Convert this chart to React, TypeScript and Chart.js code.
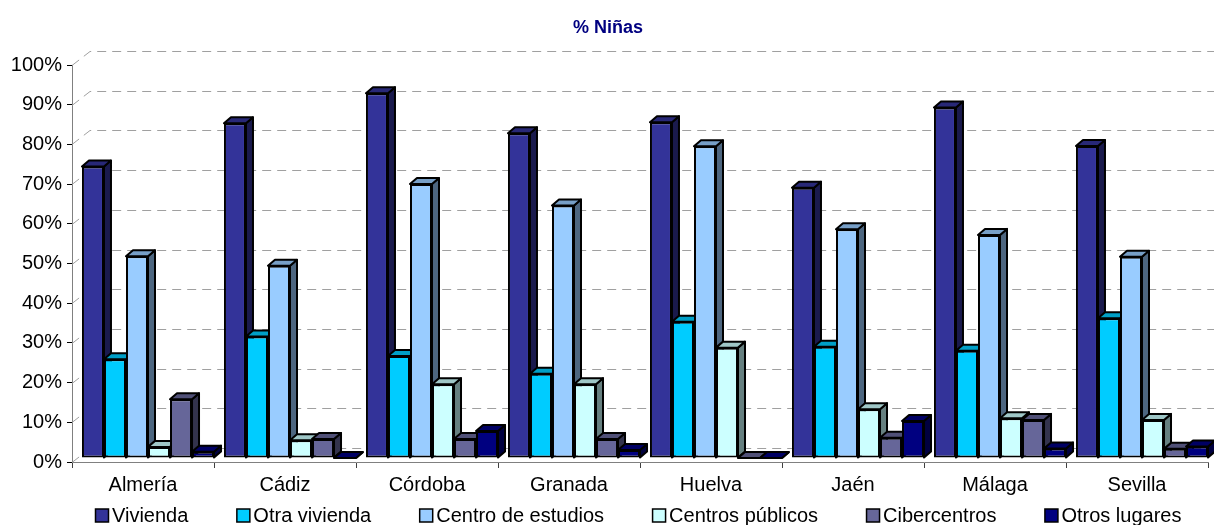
import React, { useEffect, useRef } from 'react';
import { Chart, registerables } from 'chart.js';

Chart.register(...registerables);

const categories = ['Almería', 'Cádiz', 'Córdoba', 'Granada', 'Huelva', 'Jaén', 'Málaga', 'Sevilla'];
const seriesNames = ['Vivienda', 'Otra vivienda', 'Centro de estudios', 'Centros públicos', 'Cibercentros', 'Otros lugares'];
const vivienda = [73.4, 84.3, 91.9, 81.8, 84.6, 68.1, 88.3, 78.6];
const otraVivienda = [24.9, 30.6, 25.7, 21.2, 34.3, 28.0, 27.0, 35.2];
const centroEstudios = [50.8, 48.4, 69.0, 63.6, 78.5, 57.6, 56.2, 50.7];
const centrosPublicos = [2.8, 4.5, 18.6, 18.6, 27.8, 12.3, 10.0, 9.6];
const cibercentros = [14.8, 4.8, 4.8, 4.8, 0, 5.1, 9.6, 2.3];
const otrosLugares = [1.6, 0, 6.8, 2.0, 0, 9.3, 2.4, 2.9];
const seriesValues = [vivienda, otraVivienda, centroEstudios, centrosPublicos, cibercentros, otrosLugares];
const seriesColors = ['#333399', '#00CCFF', '#99CCFF', '#CCFFFF', '#666699', '#000080'];
const yTickValues = [0, 10, 20, 30, 40, 50, 60, 70, 80, 90, 100];
const titleText = '% Niñas';

const FONT = '"Liberation Sans", Arial, sans-serif';
const WALL_DX = 18;
const WALL_DY = 14;
const BAR_SHIFT_X = 5;
const BAR_SHIFT_Y = 4;
const BAR_DX = 7;
const BAR_DY = 6;

function shade(hex: string, f: number): string {
  const h = hex.replace('#', '');
  const r = parseInt(h.slice(0, 2), 16);
  const g = parseInt(h.slice(2, 4), 16);
  const b = parseInt(h.slice(4, 6), 16);
  return `rgb(${Math.round(r * f)},${Math.round(g * f)},${Math.round(b * f)})`;
}

const threeDPlugin = {
  id: 'threeD',
  beforeDatasetsDraw(chart: any) {
    const { ctx, chartArea } = chart;
    const y = chart.scales.y;
    ctx.save();
    ctx.strokeStyle = '#a0a0a0';
    ctx.lineWidth = 1;
    ctx.setLineDash([9, 6]);
    for (const v of yTickValues) {
      const py = Math.round(y.getPixelForValue(v)) + 0.5;
      ctx.beginPath();
      ctx.moveTo(chartArea.left, py);
      ctx.lineTo(chartArea.left + WALL_DX, py - WALL_DY);
      ctx.lineTo(chartArea.right + WALL_DX + 20, py - WALL_DY);
      ctx.stroke();
    }
    ctx.restore();

    ctx.save();
    ctx.translate(BAR_SHIFT_X, -BAR_SHIFT_Y);
    ctx.lineWidth = 2;
    ctx.lineJoin = 'round';
    ctx.strokeStyle = '#000';
    const n = categories.length;
    for (let c = 0; c < n; c++) {
      for (let d = 0; d < seriesValues.length; d++) {
        const meta = chart.getDatasetMeta(d);
        const el = meta.data[c];
        if (!el) continue;
        const p = el.getProps(['x', 'y', 'base', 'width'], true);
        const l = p.x - p.width / 2;
        const r = p.x + p.width / 2;
        const top = p.y;
        const base = p.base;
        const col = seriesColors[d];
        if (base - top > 0.5) {
          ctx.beginPath();
          ctx.moveTo(r, top);
          ctx.lineTo(r + BAR_DX, top - BAR_DY);
          ctx.lineTo(r + BAR_DX, base - BAR_DY);
          ctx.lineTo(r, base);
          ctx.closePath();
          ctx.fillStyle = shade(col, 0.5);
          ctx.fill();
          ctx.stroke();
        } else {
          ctx.beginPath();
          ctx.moveTo(r, base);
          ctx.lineTo(r + BAR_DX, base - BAR_DY);
          ctx.stroke();
        }
        ctx.beginPath();
        ctx.moveTo(l, top);
        ctx.lineTo(l + BAR_DX, top - BAR_DY);
        ctx.lineTo(r + BAR_DX, top - BAR_DY);
        ctx.lineTo(r, top);
        ctx.closePath();
        ctx.fillStyle = shade(col, 0.78);
        ctx.fill();
        ctx.stroke();
      }
    }
    ctx.restore();
    ctx.save();
    ctx.translate(BAR_SHIFT_X, -BAR_SHIFT_Y);
  },
  afterDatasetsDraw(chart: any) {
    chart.ctx.restore();
  },
  afterDraw(chart: any) {
    const { ctx } = chart;
    ctx.save();
    ctx.fillStyle = '#000080';
    ctx.font = `bold 18px ${FONT}`;
    ctx.textAlign = 'center';
    ctx.textBaseline = 'middle';
    ctx.fillText(titleText, 608, 28);
    ctx.font = `20px ${FONT}`;
    ctx.textAlign = 'left';
    let x = 95;
    const cy = 516;
    for (let i = 0; i < seriesNames.length; i++) {
      ctx.fillStyle = seriesColors[i];
      ctx.fillRect(x + 0.5, cy - 7, 13, 13);
      ctx.strokeStyle = '#000';
      ctx.lineWidth = 1.5;
      ctx.strokeRect(x + 0.5, cy - 7, 13, 13);
      ctx.fillStyle = '#000';
      ctx.fillText(seriesNames[i], x + 17, cy);
      x += 17 + ctx.measureText(seriesNames[i]).width + 48;
    }
    ctx.restore();
  },
};

export default function App() {
  const canvasRef = useRef<HTMLCanvasElement | null>(null);

  useEffect(() => {
    document.body.style.margin = '0';
    const canvas = canvasRef.current;
    if (!canvas) return;
    const chart = new Chart(canvas, {
      type: 'bar',
      data: {
        labels: categories,
        datasets: seriesValues.map((vals, i) => ({
          label: seriesNames[i],
          data: vals,
          backgroundColor: seriesColors[i],
          borderColor: '#000',
          borderWidth: 2,
          borderSkipped: false,
          clip: false as any,
        })),
      },
      options: {
        animation: false,
        responsive: true,
        maintainAspectRatio: false,
        events: [],
        layout: { padding: { top: 65, right: 6, bottom: 25, left: 0 } },
        datasets: {
          bar: { categoryPercentage: 0.93, barPercentage: 1 },
        },
        plugins: {
          legend: { display: false },
          title: { display: false },
          tooltip: { enabled: false },
        },
        scales: {
          x: {
            offset: true,
            grid: { offset: true, drawOnChartArea: false, drawTicks: true, tickLength: 6, color: '#404040' },
            border: { display: true, color: '#808080', width: 1 },
            ticks: {
              autoSkip: false,
              maxRotation: 0,
              padding: 5,
              color: '#000',
              font: { family: FONT, size: 20 },
            },
            afterFit: (s: any) => { s.height = 38; },
          },
          y: {
            min: 0,
            max: 100,
            grid: { drawOnChartArea: false, drawTicks: true, tickLength: 5, color: '#000' },
            border: { display: true, color: '#808080', width: 1 },
            ticks: {
              stepSize: 10,
              padding: 5,
              color: '#000',
              font: { family: FONT, size: 20 },
              callback: (v: any) => `${v}%`,
            },
            afterFit: (s: any) => { s.width = 72; },
          },
        },
      },
      plugins: [threeDPlugin],
    });
    return () => chart.destroy();
  }, []);

  return (
    <div style={{ width: 1214, height: 525, position: 'relative', background: '#fff' }}>
      <canvas ref={canvasRef} />
    </div>
  );
}
